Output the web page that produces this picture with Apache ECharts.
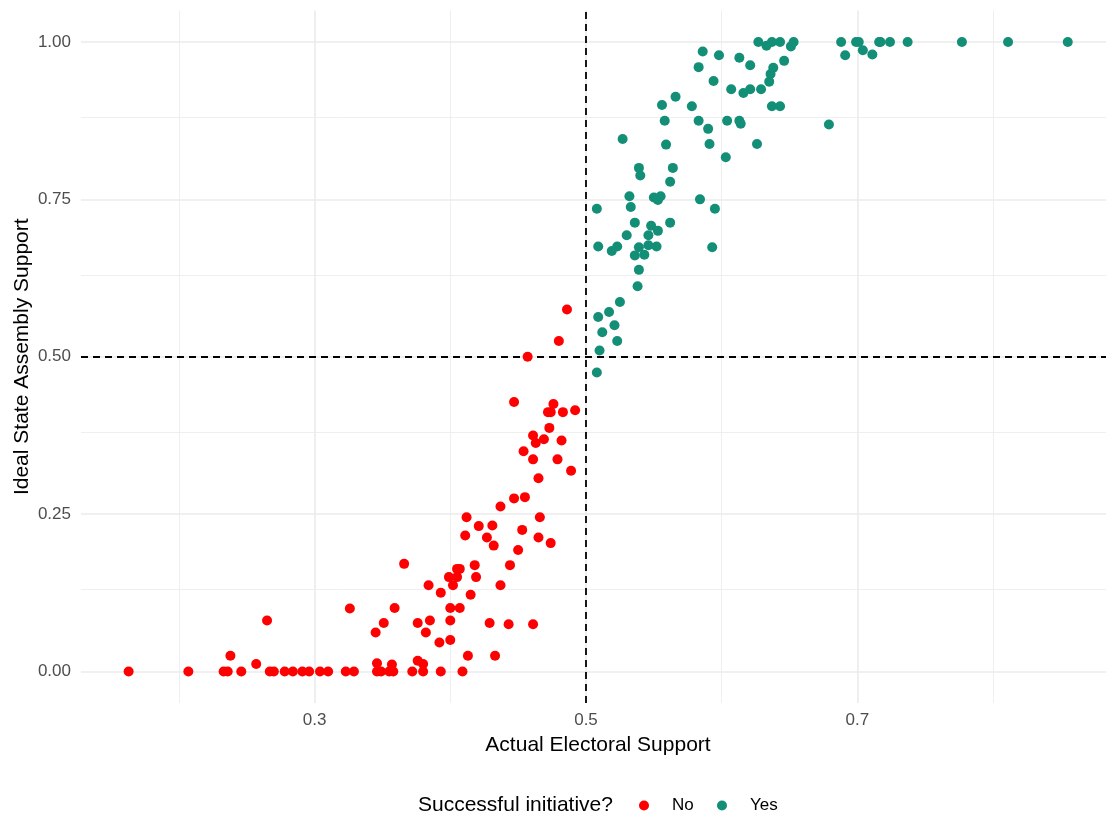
<!DOCTYPE html>
<html>
<head>
<meta charset="utf-8">
<script src="https://cdn.jsdelivr.net/npm/echarts@6/dist/echarts.min.js"></script>
<style>
  html, body { margin: 0; padding: 0; background: #ffffff; }
  #chart { width: 1106px; height: 814px; }
</style>
</head>
<body>
<div id="chart"></div>
<script>
// Initiatives that failed: [actual electoral support, ideal state assembly support]
const failedInitiatives = [
  [0.163, 0], [0.207, 0], [0.233, 0], [0.236, 0], [0.246, 0], [0.267, 0], [0.270, 0],
  [0.278, 0], [0.284, 0], [0.291, 0], [0.296, 0], [0.304, 0], [0.310, 0], [0.323, 0],
  [0.329, 0], [0.346, 0], [0.349, 0], [0.355, 0], [0.358, 0], [0.372, 0], [0.380, 0],
  [0.393, 0], [0.409, 0],
  [0.238, 0.025], [0.257, 0.012], [0.265, 0.081], [0.326, 0.100], [0.346, 0.013],
  [0.357, 0.011], [0.376, 0.017], [0.380, 0.012], [0.413, 0.025], [0.433, 0.025],
  [0.392, 0.046], [0.400, 0.050], [0.345, 0.062], [0.382, 0.062], [0.351, 0.077],
  [0.376, 0.077], [0.385, 0.081], [0.400, 0.081], [0.429, 0.077], [0.443, 0.075],
  [0.461, 0.075], [0.359, 0.101], [0.400, 0.101], [0.407, 0.101], [0.393, 0.125],
  [0.415, 0.122], [0.384, 0.137], [0.402, 0.137], [0.437, 0.137], [0.399, 0.150],
  [0.405, 0.150], [0.419, 0.150], [0.405, 0.163], [0.407, 0.163], [0.366, 0.171],
  [0.418, 0.169], [0.444, 0.169], [0.450, 0.193], [0.432, 0.200], [0.474, 0.204],
  [0.411, 0.216], [0.427, 0.213], [0.465, 0.213], [0.453, 0.225], [0.421, 0.231],
  [0.431, 0.232], [0.412, 0.245], [0.466, 0.245], [0.437, 0.262], [0.447, 0.275],
  [0.455, 0.277], [0.465, 0.307], [0.489, 0.319], [0.461, 0.337], [0.479, 0.337],
  [0.454, 0.350], [0.463, 0.363], [0.461, 0.375], [0.469, 0.369], [0.482, 0.367],
  [0.473, 0.387], [0.472, 0.412], [0.474, 0.412], [0.483, 0.412], [0.492, 0.415],
  [0.476, 0.425], [0.447, 0.428], [0.457, 0.500], [0.480, 0.525], [0.486, 0.575]
];

// Initiatives that passed
const passedInitiatives = [
  [0.508, 0.475], [0.510, 0.510], [0.523, 0.525], [0.512, 0.539], [0.521, 0.550],
  [0.509, 0.563], [0.517, 0.571], [0.525, 0.587], [0.538, 0.612], [0.539, 0.638],
  [0.536, 0.661], [0.543, 0.662], [0.509, 0.675], [0.519, 0.668], [0.523, 0.675],
  [0.539, 0.674], [0.546, 0.677], [0.552, 0.675], [0.593, 0.674], [0.530, 0.693],
  [0.546, 0.693], [0.553, 0.700], [0.548, 0.708], [0.536, 0.713], [0.562, 0.713],
  [0.508, 0.735], [0.533, 0.738], [0.595, 0.735], [0.532, 0.755], [0.550, 0.753],
  [0.555, 0.755], [0.553, 0.749], [0.584, 0.750], [0.562, 0.778], [0.539, 0.800],
  [0.540, 0.788], [0.564, 0.800], [0.527, 0.846], [0.559, 0.837], [0.591, 0.838],
  [0.626, 0.838], [0.603, 0.817], [0.679, 0.869], [0.590, 0.862], [0.558, 0.875],
  [0.583, 0.875], [0.604, 0.875], [0.613, 0.875], [0.614, 0.870], [0.556, 0.900],
  [0.578, 0.898], [0.637, 0.898], [0.643, 0.898], [0.566, 0.913], [0.607, 0.925],
  [0.616, 0.919], [0.621, 0.925], [0.629, 0.925], [0.594, 0.938], [0.635, 0.937],
  [0.636, 0.949], [0.638, 0.959], [0.583, 0.960], [0.621, 0.963], [0.646, 0.970],
  [0.613, 0.975], [0.598, 0.979], [0.586, 0.985], [0.633, 0.994], [0.651, 0.993],
  [0.627, 1.000], [0.637, 1.000], [0.643, 1.000], [0.653, 1.000], [0.688, 1.000],
  [0.691, 0.979], [0.699, 1.000], [0.701, 1.000], [0.704, 0.987], [0.711, 0.980],
  [0.716, 1.000], [0.717, 1.000], [0.724, 1.000], [0.737, 1.000], [0.777, 1.000],
  [0.811, 1.000], [0.855, 1.000]
];

// Tick labels and grid positions
const xTickValues = [0.3, 0.5, 0.7];
const xMinorValues = [0.2, 0.4, 0.6, 0.8];
const yTickValues = [0, 0.25, 0.5, 0.75, 1];
const yMinorValues = [0.125, 0.375, 0.625, 0.875];

// Majority thresholds drawn as dashed reference lines
const thresholdX = 0.5;
const thresholdY = 0.5;

const seriesNames = ['No', 'Yes'];
const legendTitle = 'Successful initiative?';
const xTitle = 'Actual Electoral Support';
const yTitle = 'Ideal State Assembly Support';

const FONT = '"Liberation Sans", Arial, Helvetica, sans-serif';
const GRID_COLOR = '#EBEBEB';
const COLORS = ['#FF0000', '#148F77'];

const gridLines = [];
xTickValues.forEach(v => gridLines.push({ xAxis: v, lineStyle: { width: 1.6 } }));
xMinorValues.forEach(v => gridLines.push({ xAxis: v, lineStyle: { width: 0.8 } }));
yTickValues.forEach(v => gridLines.push({ yAxis: v, lineStyle: { width: 1.6 } }));
yMinorValues.forEach(v => gridLines.push({ yAxis: v, lineStyle: { width: 0.8 } }));

// one single-entry legend per group so each key sits at a fixed spot
function legendFor(name, left) {
  return {
    data: [name],
    left: left,
    top: 792,
    orient: 'horizontal',
    icon: 'circle',
    itemWidth: 10,
    itemHeight: 10,
    selectedMode: false,
    textStyle: {
      fontSize: 17,
      color: '#000000',
      fontFamily: FONT,
      padding: [0, 0, 0, 18]
    }
  };
}

const chart = echarts.init(document.getElementById('chart'), null, { renderer: 'canvas' });

chart.setOption({
  animation: false,
  backgroundColor: '#ffffff',
  textStyle: { fontFamily: FONT },
  grid: {
    left: 81, top: 10.5, width: 1034, height: 692.5,
    containLabel: false,
    outerBoundsMode: 'none'
  },
  xAxis: {
    type: 'value',
    min: 0.1279,
    max: 0.8898,
    name: xTitle,
    nameLocation: 'middle',
    nameGap: 32,
    nameTextStyle: { fontSize: 21, color: '#000000', fontFamily: FONT },
    axisLine: { show: false },
    axisTick: { show: false },
    splitLine: { show: false },
    axisLabel: {
      customValues: xTickValues,
      formatter: v => v.toFixed(1),
      fontSize: 17,
      color: '#4D4D4D',
      margin: 9,
      fontFamily: FONT
    }
  },
  yAxis: {
    type: 'value',
    min: -0.05,
    max: 1.05,
    name: yTitle,
    nameLocation: 'middle',
    nameGap: 48,
    nameMoveOverlap: false,
    nameTextStyle: { fontSize: 21, color: '#000000', fontFamily: FONT },
    axisLine: { show: false },
    axisTick: { show: false },
    splitLine: { show: false },
    axisLabel: {
      customValues: yTickValues,
      formatter: v => v.toFixed(2),
      fontSize: 17,
      color: '#4D4D4D',
      margin: 10,
      fontFamily: FONT
    }
  },
  legend: [legendFor(seriesNames[0], 634), legendFor(seriesNames[1], 712)],
  graphic: [{
    type: 'text',
    left: 418,
    top: 795,
    style: {
      text: legendTitle,
      font: '21px ' + FONT,
      fill: '#000000'
    }
  }],
  series: [
    {
      // panel grid
      type: 'scatter',
      data: [],
      silent: true,
      z: 0,
      markLine: {
        z: 0,
        silent: true,
        symbol: ['none', 'none'],
        label: { show: false },
        lineStyle: { color: GRID_COLOR, type: 'solid' },
        emphasis: { disabled: true },
        data: gridLines
      }
    },
    {
      // threshold reference lines
      type: 'scatter',
      data: [],
      silent: true,
      z: 1,
      markLine: {
        z: 1,
        silent: true,
        symbol: ['none', 'none'],
        label: { show: false },
        lineStyle: { color: '#000000', type: [7, 5], width: 1.8 },
        emphasis: { disabled: true },
        data: [{ xAxis: thresholdX }, { yAxis: thresholdY }]
      }
    },
    {
      name: seriesNames[0],
      type: 'scatter',
      data: failedInitiatives,
      symbol: 'circle',
      symbolSize: 10,
      itemStyle: { color: COLORS[0], opacity: 1 },
      z: 3
    },
    {
      name: seriesNames[1],
      type: 'scatter',
      data: passedInitiatives,
      symbol: 'circle',
      symbolSize: 10,
      itemStyle: { color: COLORS[1], opacity: 1 },
      z: 3
    }
  ]
});
</script>
</body>
</html>
